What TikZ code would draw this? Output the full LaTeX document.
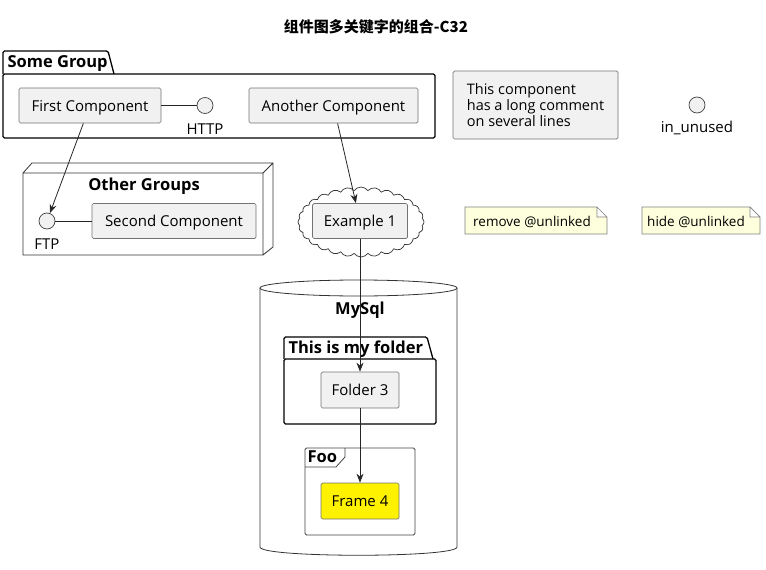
\documentclass[tikz,border=0pt]{standalone}
\usepackage{fontspec}
\setmainfont{Open Sans}
\newfontfamily\cjk{Noto Sans CJK SC}
\usetikzlibrary{arrows.meta,positioning,shapes.symbols}

\definecolor{compfill}{HTML}{F1F1F1}
\definecolor{notefill}{HTML}{FEFFDD}

\begin{document}
\begin{tikzpicture}[x=1pt,y=-1pt,
  txt/.style={font=\fontsize{15}{16}\selectfont},
  bold/.style={font=\bfseries\fontsize{16.5}{18}\selectfont,text depth=0pt},
  comp/.style={txt,draw=black!55,fill=compfill,rounded corners=1.5pt,line width=0.7pt,inner sep=0pt,minimum height=35pt,text depth=0pt},
  iface/.style={circle,draw=black!75,fill=compfill,line width=0.7pt,minimum size=16pt,inner sep=0pt},
  grp/.style={draw=black,line width=1.3pt,rounded corners=1.5pt},
  lnk/.style={draw=black!85,line width=0.8pt},
  arr/.style={lnk,-{Stealth[length=9pt,width=7pt]}},
  notebox/.style={draw=black!50,fill=notefill,line width=0.7pt}]
\useasboundingbox (0,0) rectangle (766,570);
% title
\node[font=\cjk\bfseries\fontsize{15}{17}\selectfont] (title) at (376,27) {组件图多关键字的组合-C32};
% Some Group
\draw[grp] (3,74) -- (3,51) -- (108,51) -- (114,74);
\draw[grp] (3,74) rectangle (435,138);
\node[bold,anchor=west] (somegrp) at (4,62) {Some Group};
\node[comp,minimum width=142pt] (first) at (90,105.5) {First Component};
\node[iface] (http) at (205,105.5) {};
\node[txt,below=6pt of http] (httplbl) {HTTP};
\node[comp,minimum width=169pt] (another) at (333.5,105.5) {Another Component};
% comment
\node[draw=black!55,fill=compfill,rounded corners=1.5pt,line width=0.7pt,
  minimum width=165pt,minimum height=68pt,align=left,
  font=\fontsize{14.5}{16}\selectfont] (comment) at (535.5,105) {This component\\has a long comment\\on several lines};
\node[iface] (unused) at (697,105) {};
\node[txt,below=4pt of unused] (unusedlbl) {in\_unused};
% Other Groups
\draw[line width=0.8pt,draw=black!80] (23,173) rectangle (263,255)
  (23,173) -- (32,163) -- (273,163) -- (273,247) -- (263,255)
  (263,173) -- (273,163);
\node[bold] (othergrp) at (144,184) {Other Groups};
\node[iface] (ftp) at (47,221) {};
\node[txt,below=6pt of ftp] (ftplbl) {FTP};
\node[comp,minimum width=164pt] (second) at (174,221) {Second Component};
% cloud
\node[cloud,draw=black!80,fill=white,line width=0.7pt,cloud puffs=28,cloud puff arc=110,
  minimum width=126pt,minimum height=70pt] (cloudex) at (361,222) {};
\node[comp,minimum width=95pt] (ex1) at (360,221) {Example 1};
% notes
\draw[notebox] (465,207) -- (597,207) -- (607,217) -- (607,234) -- (465,234) -- cycle
  (597,207) -- (597,217) -- (607,217);
\node[font=\fontsize{13.5}{15}\selectfont] (rmnote) at (532,221.5) {remove @unlinked};
\draw[notebox] (642,207) -- (750,207) -- (760,217) -- (760,234) -- (642,234) -- cycle
  (750,207) -- (750,217) -- (760,217);
\node[font=\fontsize{13.5}{15}\selectfont] (hidenote) at (696,221.5) {hide @unlinked};
% MySql
\draw[line width=0.8pt,draw=black!80] (260,288) -- (260,547) .. controls (260,558) and (457,558) .. (457,547) -- (457,288);
\draw[line width=0.8pt,draw=black!80,fill=white] (358.5,288) ellipse [x radius=98.5,y radius=8];
\node[bold] (mysql) at (360,308) {MySql};
% folder
\draw[grp] (284,359) -- (284,337) -- (427,337) -- (433,359);
\draw[grp] (284,359) rectangle (436,424);
\node[bold,anchor=west] (myfolder) at (285,347) {This is my folder};
\node[comp,minimum width=78pt,minimum height=36pt] (folder3) at (360,390) {Folder 3};
% frame
\draw[line width=0.8pt,draw=black!75,rounded corners=1.5pt] (305,448) rectangle (415,535);
\draw[line width=0.8pt,draw=black!75] (305,467) -- (336,467) -- (345,457) -- (345,448);
\node[bold,anchor=west] (foo) at (304,457) {Foo};
\node[comp,fill=yellow,minimum width=78pt,minimum height=36pt] (frame4) at (360,501) {Frame 4};
% links
\draw[lnk] (first) -- (http);
\draw[lnk] (ftp) -- (second);
\draw[arr] (first) -- (ftp);
\draw[arr] (another) -- (ex1);
\draw[arr] (ex1) -- (folder3);
\draw[arr] (folder3) -- (frame4);
\end{tikzpicture}
\end{document}
